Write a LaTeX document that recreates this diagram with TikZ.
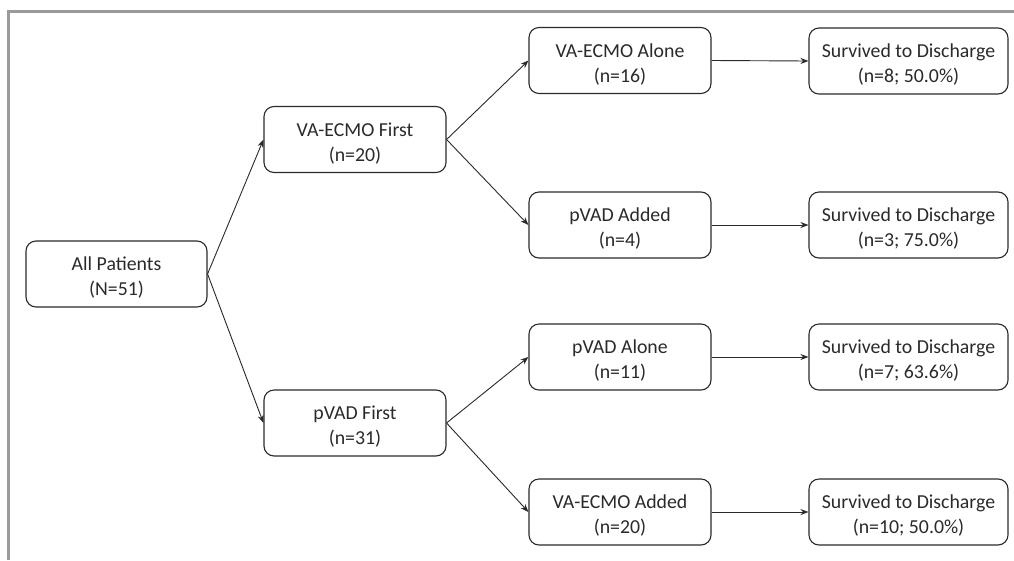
\documentclass[tikz,border=0pt]{standalone}
\usepackage{fontspec}
\setmainfont{Carlito}
\usetikzlibrary{arrows.meta}
\definecolor{frame}{HTML}{9A9A9A}
\definecolor{ink}{HTML}{2A2A2A}
\newcommand\mytopstrut{\rule{0pt}{21pt}}
\begin{document}
\begin{tikzpicture}[x=1pt,y=-1pt,
  box/.style={draw=ink, line width=1.1pt, rounded corners=10pt, minimum height=66pt, align=center, text=ink, font=\fontsize{19.8}{25}\selectfont, inner sep=0pt},
  boxA/.style={box, minimum width=182pt},
  boxS/.style={box, minimum width=199pt},
  conn/.style={draw=ink, line width=0.9pt, -{Stealth[length=8pt,width=6pt]}}]
\useasboundingbox (0,0) rectangle (1014,560);
\fill[white] (0,0) rectangle (1014,560);
\draw[frame, line width=3pt] (8.5,560) -- (8.5,11.5) -- (1014,11.5);
\node[box, minimum width=181pt] (all) at (116.5,274) {\mytopstrut All Patients\\(N=51)};
\node[boxA] (vaf) at (355,139.5) {\mytopstrut VA-ECMO First\\(n=20)};
\node[boxA] (pvf) at (355,423) {\mytopstrut pVAD First\\(n=31)};
\node[boxA] (vaa) at (620,60.5) {\mytopstrut VA-ECMO Alone\\(n=16)};
\node[boxA] (pva) at (620,225) {\mytopstrut pVAD Added\\(n=4)};
\node[boxA] (pal) at (620,357) {\mytopstrut pVAD Alone\\(n=11)};
\node[boxA] (vad) at (620,512) {\mytopstrut VA-ECMO Added\\(n=20)};
\node[boxS] (s1) at (908.5,61) {\mytopstrut Survived to Discharge\\(n=8; 50.0\%)};
\node[boxS] (s2) at (908.5,225) {\mytopstrut Survived to Discharge\\(n=3; 75.0\%)};
\node[boxS] (s3) at (908.5,357) {\mytopstrut Survived to Discharge\\(n=7; 63.6\%)};
\node[boxS] (s4) at (908.5,512) {\mytopstrut Survived to Discharge\\(n=10; 50.0\%)};
\draw[conn] (all.east) -- (vaf.west);
\draw[conn] (all.east) -- (pvf.west);
\draw[conn] (vaf.east) -- (vaa.west);
\draw[conn] (vaf.east) -- (pva.west);
\draw[conn] (pvf.east) -- (pal.west);
\draw[conn] (pvf.east) -- (vad.west);
\draw[conn] (vaa.east) -- (s1.west);
\draw[conn] (pva.east) -- (s2.west);
\draw[conn] (pal.east) -- (s3.west);
\draw[conn] (vad.east) -- (s4.west);
\end{tikzpicture}
\end{document}
